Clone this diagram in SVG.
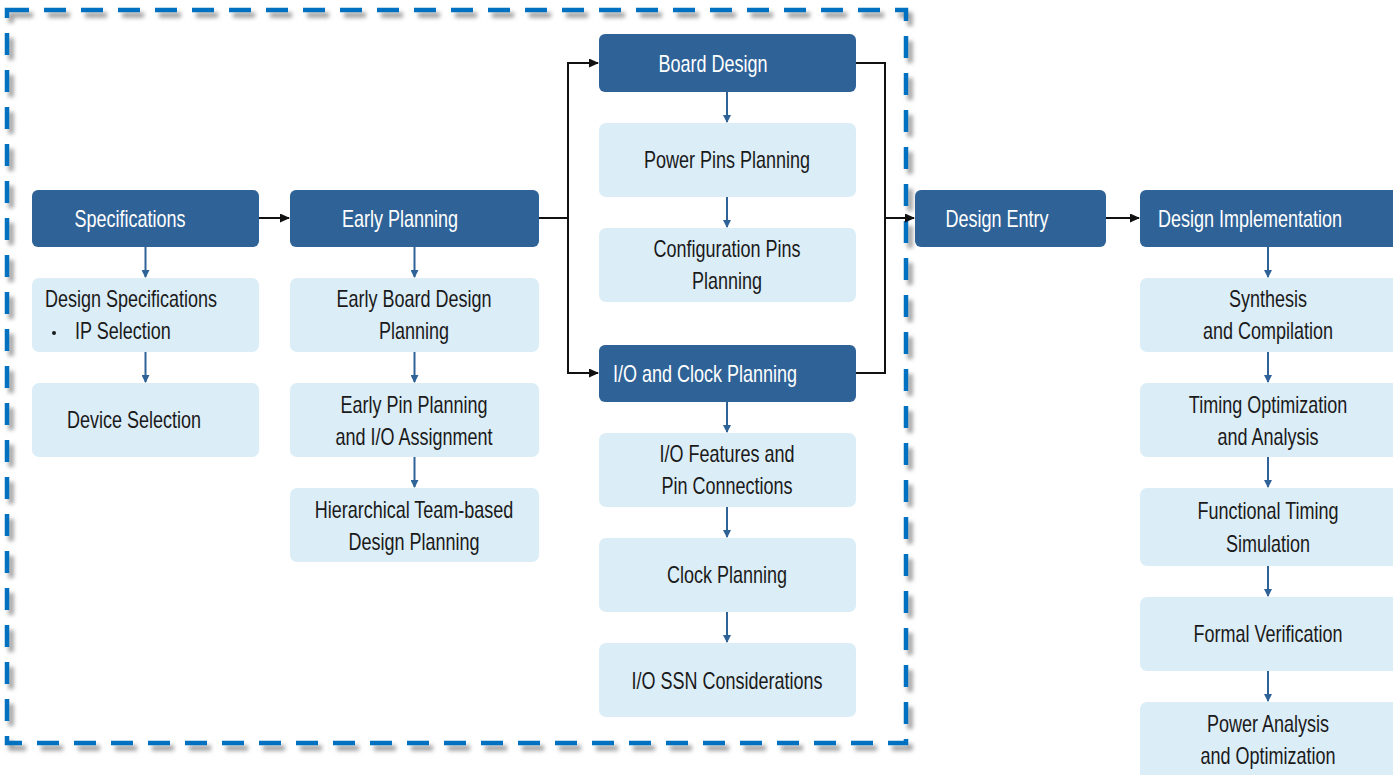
<svg xmlns="http://www.w3.org/2000/svg" width="1393" height="775" viewBox="0 0 1393 775">
<defs>
<style>
.dk{fill:#2F6398}
.lt{fill:#DBEDF7}
.tw{font-family:"Liberation Sans",Arial,sans-serif;font-size:24px;fill:#ffffff;text-anchor:middle}
.tb{font-family:"Liberation Sans",Arial,sans-serif;font-size:24px;fill:#1a1a1a;text-anchor:middle}
.tl{font-family:"Liberation Sans",Arial,sans-serif;font-size:24px;fill:#1a1a1a;text-anchor:start}
.bl{stroke:#2F6398;stroke-width:2;fill:none}
.bk{stroke:#111;stroke-width:2;fill:none}
</style>
<marker id="ab" markerWidth="8" markerHeight="8" refX="7" refY="4" orient="auto" markerUnits="userSpaceOnUse"><path d="M0,0 L8,4 L0,8 Z" fill="#2F6398"/></marker>
<marker id="ak" markerWidth="10" markerHeight="9" refX="9" refY="4.5" orient="auto" markerUnits="userSpaceOnUse"><path d="M0,0 L10,4.5 L0,9 Z" fill="#111"/></marker>
<filter id="sh" x="-5%" y="-5%" width="110%" height="110%"><feGaussianBlur stdDeviation="2"/></filter>
</defs>
<rect width="1393" height="775" fill="#ffffff"/>
<g id="frame">
<rect x="11" y="15" width="899" height="733" fill="none" stroke="#9a9a9a" stroke-width="5" stroke-dasharray="22 15" filter="url(#sh)"/>
<rect x="7" y="10" width="899" height="733" fill="none" stroke="#0070C0" stroke-width="4.5" stroke-dasharray="22 15"/>
</g>
<g id="connectors">
<line class="bk" x1="259" y1="218" x2="289" y2="218" marker-end="url(#ak)"/>
<polyline class="bk" points="539,218 568,218"/>
<polyline class="bk" points="568,373 568,63 598,63" marker-end="url(#ak)"/>
<polyline class="bk" points="568,218 568,373 598,373" marker-end="url(#ak)"/>
<polyline class="bk" points="856,63 885,63 885,373 856,373"/>
<line class="bk" x1="885" y1="218" x2="914" y2="218" marker-end="url(#ak)"/>
<line class="bk" x1="1106" y1="218" x2="1139" y2="218" marker-end="url(#ak)"/>
<line class="bl" x1="145.5" y1="247" x2="145.5" y2="277" marker-end="url(#ab)"/>
<line class="bl" x1="145.5" y1="352" x2="145.5" y2="382" marker-end="url(#ab)"/>
<line class="bl" x1="414.5" y1="247" x2="414.5" y2="277" marker-end="url(#ab)"/>
<line class="bl" x1="414.5" y1="352" x2="414.5" y2="382" marker-end="url(#ab)"/>
<line class="bl" x1="414.5" y1="457" x2="414.5" y2="487" marker-end="url(#ab)"/>
<line class="bl" x1="727" y1="92" x2="727" y2="122" marker-end="url(#ab)"/>
<line class="bl" x1="727" y1="197" x2="727" y2="227" marker-end="url(#ab)"/>
<line class="bl" x1="727" y1="402" x2="727" y2="432" marker-end="url(#ab)"/>
<line class="bl" x1="727" y1="507" x2="727" y2="537" marker-end="url(#ab)"/>
<line class="bl" x1="727" y1="612" x2="727" y2="642" marker-end="url(#ab)"/>
<line class="bl" x1="1268" y1="247" x2="1268" y2="277" marker-end="url(#ab)"/>
<line class="bl" x1="1268" y1="352" x2="1268" y2="382" marker-end="url(#ab)"/>
<line class="bl" x1="1268" y1="457" x2="1268" y2="487" marker-end="url(#ab)"/>
<line class="bl" x1="1268" y1="566" x2="1268" y2="596" marker-end="url(#ab)"/>
<line class="bl" x1="1268" y1="671" x2="1268" y2="701" marker-end="url(#ab)"/>
</g>
<g id="specifications"><rect class="dk" x="32" y="190" width="227" height="57" rx="6"/><text class="tw" transform="translate(130,227) scale(0.75,1)">Specifications</text></g>
<g id="design-specifications"><rect class="lt" x="32" y="278" width="227" height="74" rx="7"/><text class="tl" transform="translate(45,307) scale(0.75,1)">Design Specifications</text><circle cx="54" cy="333" r="2" fill="#1a1a1a"/><text class="tl" transform="translate(75,339) scale(0.75,1)">IP Selection</text></g>
<g id="device-selection"><rect class="lt" x="32" y="383" width="227" height="74" rx="7"/><text class="tb" transform="translate(134,428) scale(0.75,1)">Device Selection</text></g>
<g id="early-planning"><rect class="dk" x="290" y="190" width="249" height="57" rx="6"/><text class="tw" transform="translate(400,227) scale(0.75,1)">Early Planning</text></g>
<g id="early-board"><rect class="lt" x="290" y="278" width="249" height="74" rx="7"/><text class="tb" transform="translate(414,307) scale(0.75,1)">Early Board Design</text><text class="tb" transform="translate(414,339) scale(0.75,1)">Planning</text></g>
<g id="early-pin"><rect class="lt" x="290" y="383" width="249" height="74" rx="7"/><text class="tb" transform="translate(414,413) scale(0.75,1)">Early Pin Planning</text><text class="tb" transform="translate(414,445) scale(0.75,1)">and I/O Assignment</text></g>
<g id="hierarchical"><rect class="lt" x="290" y="488" width="249" height="74" rx="7"/><text class="tb" transform="translate(414,518) scale(0.75,1)">Hierarchical Team-based</text><text class="tb" transform="translate(414,550) scale(0.75,1)">Design Planning</text></g>
<g id="board-design"><rect class="dk" x="599" y="34" width="257" height="58" rx="6"/><text class="tw" transform="translate(713,72) scale(0.75,1)">Board Design</text></g>
<g id="power-pins"><rect class="lt" x="599" y="123" width="257" height="74" rx="7"/><text class="tb" transform="translate(727,168) scale(0.75,1)">Power Pins Planning</text></g>
<g id="config-pins"><rect class="lt" x="599" y="228" width="257" height="74" rx="7"/><text class="tb" transform="translate(727,257) scale(0.75,1)">Configuration Pins</text><text class="tb" transform="translate(727,289) scale(0.75,1)">Planning</text></g>
<g id="io-clock"><rect class="dk" x="599" y="345" width="257" height="57" rx="6"/><text class="tw" transform="translate(705,382) scale(0.75,1)">I/O and Clock Planning</text></g>
<g id="io-features"><rect class="lt" x="599" y="433" width="257" height="74" rx="7"/><text class="tb" transform="translate(727,462) scale(0.75,1)">I/O Features and</text><text class="tb" transform="translate(727,494) scale(0.75,1)">Pin Connections</text></g>
<g id="clock-planning"><rect class="lt" x="599" y="538" width="257" height="74" rx="7"/><text class="tb" transform="translate(727,583) scale(0.75,1)">Clock Planning</text></g>
<g id="io-ssn"><rect class="lt" x="599" y="643" width="257" height="74" rx="7"/><text class="tb" transform="translate(727,689) scale(0.75,1)">I/O SSN Considerations</text></g>
<g id="design-entry"><rect class="dk" x="915" y="190" width="191" height="57" rx="6"/><text class="tw" transform="translate(997,227) scale(0.75,1)">Design Entry</text></g>
<g id="design-implementation"><rect class="dk" x="1140" y="190" width="262" height="57" rx="6"/><text class="tw" transform="translate(1250,227) scale(0.75,1)">Design Implementation</text></g>
<g id="synthesis"><rect class="lt" x="1140" y="278" width="262" height="74" rx="7"/><text class="tb" transform="translate(1268,307) scale(0.75,1)">Synthesis</text><text class="tb" transform="translate(1268,339) scale(0.75,1)">and Compilation</text></g>
<g id="timing-opt"><rect class="lt" x="1140" y="383" width="262" height="74" rx="7"/><text class="tb" transform="translate(1268,413) scale(0.75,1)">Timing Optimization</text><text class="tb" transform="translate(1268,445) scale(0.75,1)">and Analysis</text></g>
<g id="functional-timing"><rect class="lt" x="1140" y="488" width="262" height="78" rx="7"/><text class="tb" transform="translate(1268,519) scale(0.75,1)">Functional Timing</text><text class="tb" transform="translate(1268,552) scale(0.75,1)">Simulation</text></g>
<g id="formal-verification"><rect class="lt" x="1140" y="597" width="262" height="74" rx="7"/><text class="tb" transform="translate(1268,642) scale(0.75,1)">Formal Verification</text></g>
<g id="power-analysis"><rect class="lt" x="1140" y="702" width="262" height="80" rx="7"/><text class="tb" transform="translate(1268,732) scale(0.75,1)">Power Analysis</text><text class="tb" transform="translate(1268,764) scale(0.75,1)">and Optimization</text></g>
</svg>
